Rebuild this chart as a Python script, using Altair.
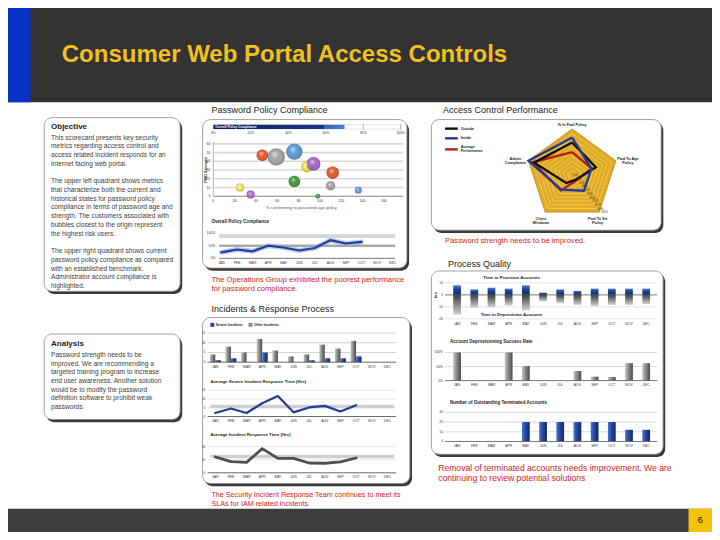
import altair as alt
import pandas as pd

W, H = 704, 524
SX, SY = W / 720.0, H / 540.0
FONT = "Liberation Sans"


def px(v):
    return round(v * SX, 2)


def py(v):
    return round(v * SY, 2)


# ---------------------------------------------------------------- data
MONTHS = ["JAN", "FEB", "MAR", "APR", "MAY", "JUN", "JUL", "AUG", "SEP", "OCT", "NOV", "DEC"]

SLIDE_TITLE = "Consumer Web Portal Access Controls"
PAGE_NO = "6"

OBJECTIVE_HEAD = "Objective"
OBJECTIVE_LINES = [
    "This scorecard presents key security",
    "metrics regarding access control and",
    "access related incident responds for an",
    "Internet facing web portal.",
    "",
    "The upper left quadrant shows metrics",
    "that characterize both the current and",
    "historical states for password policy",
    "compliance in terms of password age and",
    "strength. The customers associated with",
    "bubbles closest to the origin represent",
    "the highest risk users.",
    "",
    "The upper right quadrant shows current",
    "password policy compliance as compared",
    "with an established benchmark.",
    "Administrator account compliance is",
    "highlighted.",
]
ANALYSIS_HEAD = "Analysis"
ANALYSIS_LINES = [
    "Password strength needs to be",
    "improved. We are recommending a",
    "targeted training program to increase",
    "end user awareness. Another solution",
    "would be to modify the password",
    "definition software to prohibit weak",
    "passwords.",
]

SECTION_TITLES = ["Password Policy Compliance", "Incidents & Response Process",
                  "Access Control Performance", "Process Quality"]
NOTE_PPC = ["The Operations Group exhibited the poorest performance", "for password compliance."]
NOTE_IRP = ["The Security Incident Response Team continues to meet its", "SLAs for IAM related incidents."]
NOTE_ACP = ["Password strength needs to be improved."]
NOTE_PQ = ["Removal of terminated accounts needs improvement. We are", "continuing to review potential solutions"]

# password policy compliance
GAUGE_LABEL = "Overall Policy Compliance"
GAUGE_VALUE = 70
GAUGE_TICKS = [0, 20, 40, 60, 80, 100]
BUB_X = [46, 59, 76, 88, 94, 112, 76, 110, 25, 35, 136, 98]
BUB_Y = [47, 45, 51, 34, 37, 27, 17, 12, 10, 2, 7, 0]
BUB_N = [100, 225, 196, 100, 144, 121, 100, 64, 49, 49, 36, 16]
BUB_C = ["#e4572e", "#a3a3a3", "#5b9bd5", "#f0e24a", "#a366c9", "#e4572e",
         "#3c9a3c", "#a3a3a3", "#eeee55", "#b070c8", "#6a9fd0", "#3c9a3c"]
BUB_XTICKS = [0, 20, 40, 60, 80, 100, 120, 140, 160]
BUB_YTICKS = [0, 10, 20, 30, 40, 50, 60]
BUB_XTITLE = "% conforming to password age policy"
BUB_YTITLE = "PWD Strength"
OPC_TITLE = "Overall Policy Compliance"
OPC = [24, 35, 28, 50, 43, 31, 41, 72, 59, 65]
OPC_TARGETS = [88, 50]

# incidents
LEG_INC = ["Severe Incidents", "Other Incidents"]
SEVERE = [1, 2, 0, 5, 0, 0, 1, 2, 2, 3, 0, 0]
OTHER = [4, 8, 5, 12, 6, 3, 4, 9, 7, 11, 0, 0]
SEV_TITLE = "Average Severe Incident Response Time (Hrs)"
SEV_RESP = [2.0, 4.6, 2.0, 7.6, 11.7, 2.4, 5.2, 6.1, 2.9, 6.5]
SEV_TARGET = 5.7
AVG_TITLE = "Average Incident Response Time (Hrs)"
AVG_RESP = [12.2, 8.5, 8.0, 18.5, 11.0, 11.0, 7.5, 7.3, 8.3, 11.3]
AVG_TARGET = 12.5

# process quality
PROV_TITLE = "Time to Provision Accounts"
DEPROV_TITLE = "Time to Deprovision Accounts"
PROVISION = [8, 4.6, 6, 5.2, 8, 1.9, 4.6, 3.3, 5.2, 5.2, 5.2, 5.2]
DEPROVISION = [-16.5, -10.8, -10.3, -8.9, -13, -5.4, -7, -8.4, -9.4, -8.4, -8.4, -7.6]
RATE_TITLE = "Account Deprovisioning Success Rate"
DEPROV_RATE = [100, 0, 0, 100, 52, 0, 0, 34, 14, 13, 62, 62]
OUT_TITLE = "Number of Outstanding Terminated Accounts"
OUTSTANDING = [0, 0, 0, 0, 20, 20, 20, 20, 20, 20, 12, 12]

# access control radar
RADAR_LABELS = [["% In Pwd Policy"], ["Pwd To Age", "Policy"], ["Pwd To Str", "Policy"],
                ["Client", "Windows"], ["Admin", "Compliance"]]
RADAR_SERIES = ["Outside", "Inside", "Average Performance"]
RADAR_OUTSIDE = [0.71, 0.54, 0.13, 0.22, 0.87]
RADAR_INSIDE = [0.82, 0.44, 0.43, 0.40, 1.0]
RADAR_AVERAGE = [0.50, 0.45, 0.15, 0.42, 0.90]
RADAR_LEVELS = [0.1, 0.2, 0.3, 0.4, 0.5, 0.6, 0.7, 0.8, 0.9]
RADAR_STEPS = [0, 0.1, 0.2, 0.3, 0.4, 0.5, 0.6, 0.7, 0.8, 0.9, 1.0]

# ---------------------------------------------------------------- helpers
FX = alt.Scale(domain=[0, 720], range=[0, W], nice=False, zero=False)
FY = alt.Scale(domain=[0, 540], range=[0, H], nice=False, zero=False)
RED = "#d01c1c"
NAVY = "#1f3d99"


def lin(domain, a, b):
    return alt.Scale(domain=domain, range=[a, b], nice=False, zero=False)


def lg(stops, x1=0, y1=0, x2=1, y2=0):
    return alt.LinearGradient(gradient="linear",
                              stops=[alt.GradientStop(color=c, offset=o) for o, c in stops],
                              x1=x1, y1=y1, x2=x2, y2=y2)


def rects(rows, **mk):
    df = pd.DataFrame(rows, columns=["x", "x2", "y", "y2", "c"])
    return alt.Chart(df).mark_rect(**mk).encode(
        x=alt.X("x:Q", scale=FX, axis=None), x2=alt.X2("x2"),
        y=alt.Y("y:Q", scale=FY, axis=None), y2=alt.Y2("y2"),
        color=alt.Color("c:N", scale=None))


def texts(rows, align="left", weight="normal", angle=0):
    df = pd.DataFrame([r for r in rows if r[2] != ""], columns=["x", "y", "t", "s", "c"])
    mk = dict(align=align, baseline="middle", font=FONT, fontWeight=weight)
    if angle:
        mk["angle"] = angle
    return alt.Chart(df).mark_text(**mk).encode(
        x=alt.X("x:Q", scale=FX, axis=None), y=alt.Y("y:Q", scale=FY, axis=None),
        text="t:N", size=alt.Size("s:Q", scale=None), color=alt.Color("c:N", scale=None))


def frule(rows, color, width):
    df = pd.DataFrame(rows, columns=["x", "x2", "y", "y2"])
    return alt.Chart(df).mark_rule(color=color, strokeWidth=width).encode(
        x=alt.X("x:Q", scale=FX, axis=None), x2=alt.X2("x2"),
        y=alt.Y("y:Q", scale=FY, axis=None), y2=alt.Y2("y2"))


def hlines(vals, scale, x0, x1, color, width):
    df = pd.DataFrame({"v": vals})
    return alt.Chart(df).mark_rule(color=color, strokeWidth=width).encode(
        y=alt.Y("v:Q", scale=scale, axis=None), x=alt.value(px(x0)), x2=alt.value(px(x1)))


def ylabels(vals, labels, scale, xr, size=3.6):
    df = pd.DataFrame({"v": vals, "t": labels})
    return alt.Chart(df).mark_text(align="right", baseline="middle", font=FONT,
                                   fontSize=size, color="#333").encode(
        y=alt.Y("v:Q", scale=scale, axis=None), x=alt.value(px(xr)), text="t:N")


def xlabels(vals, labels, scale, yy, size=3.6):
    df = pd.DataFrame({"v": vals, "t": labels})
    return alt.Chart(df).mark_text(align="center", baseline="middle", font=FONT,
                                   fontSize=size, color="#333").encode(
        x=alt.X("v:Q", scale=scale, axis=None), y=alt.value(py(yy)), text="t:N")


def mlabels(scale, yy, size=3.4):
    df = pd.DataFrame({"m": MONTHS})
    return alt.Chart(df).mark_text(align="center", baseline="middle", font=FONT,
                                   fontSize=size, color="#333").encode(
        x=alt.X("m:N", scale=scale, axis=None), y=alt.value(py(yy)), text="m:N")


def mline(vals, xscale, yscale, color, width, opacity=1.0):
    df = pd.DataFrame({"m": MONTHS[:len(vals)], "v": vals, "i": list(range(len(vals)))})
    return alt.Chart(df).mark_line(color=color, strokeWidth=width, opacity=opacity,
                                   strokeJoin="round", strokeCap="round").encode(
        x=alt.X("m:N", scale=xscale, axis=None), y=alt.Y("v:Q", scale=yscale, axis=None),
        order="i:Q")


def mbars(vals, xscale, yscale, grad, key=None):
    df = pd.DataFrame({"m": MONTHS, "v": vals, "k": key or "a"})
    enc = dict(x=alt.X("m:N", scale=xscale, axis=None), y=alt.Y("v:Q", scale=yscale, axis=None))
    if key:
        enc["xOffset"] = alt.XOffset("k:N", scale=alt.Scale(domain=["Other", "Severe"]))
    return alt.Chart(df).mark_bar(color=grad).encode(**enc)


GRAY_H = lg([(0, "#c4c4c4"), (0.45, "#8a8a8a"), (1, "#4a4a4a")])
BLUE_H = lg([(0, "#4a74cc"), (0.5, "#23459e"), (1, "#0f2768")])
BLUE_V = lg([(0, "#4f7fd4"), (0.35, "#23489f"), (1, "#0d2466")], x1=0, y1=0, x2=0, y2=1)
GRAY_V = lg([(0, "#3c3c3c"), (1, "#d2d2d2")], x1=0, y1=0, x2=0, y2=1)

layers = []

# ---------------------------------------------------------------- slide frame
layers.append(rects([
    (0, 720, 0, 97, "#333333"),
    (0, 23, 0, 97, "#0a33c6"),
    (0, 720, 516, 540, "#3d3d3d"),
    (696, 720, 516, 540, "#f4c20d"),
]))

BOXES = [(37, 176, 113, 292), (37, 176, 336, 424), (199, 408, 115, 268),
         (199, 411, 319, 490), (433, 668, 115, 229), (433, 670, 271, 460)]
layers.append(rects([(a + 2.2, b + 2.2, c + 2.8, d + 2.8, "#3a3a3a") for a, b, c, d in BOXES],
                    cornerRadius=8))
layers.append(rects([(a, b, c, d, "#ffffff") for a, b, c, d in BOXES],
                    cornerRadius=8, stroke="#8a8a8a", strokeWidth=0.8))

# ---------------------------------------------------------------- password policy compliance
GX = lin([0, 100], px(210), px(401.7))
layers.append(alt.Chart(pd.DataFrame({"a": [0], "b": [100]})).mark_rect(
    fill="#ffffff", stroke="#c8c8c8", strokeWidth=0.5).encode(
    x=alt.X("a:Q", scale=GX, axis=None), x2=alt.X2("b"),
    y=alt.value(py(120.3)), y2=alt.value(py(124.8))))
layers.append(alt.Chart(pd.DataFrame({"a": [0], "b": [GAUGE_VALUE]})).mark_rect(
    color=lg([(0, "#0b1f5e"), (0.84, "#17378a"), (0.85, "#3565b8"), (1, "#4a7ed0")])).encode(
    x=alt.X("a:Q", scale=GX, axis=None), x2=alt.X2("b"),
    y=alt.value(py(120.3)), y2=alt.value(py(124.8))))
layers.append(alt.Chart(pd.DataFrame({"v": GAUGE_TICKS[3:]})).mark_rule(
    color="#8a8a8a", strokeWidth=0.6).encode(
    x=alt.X("v:Q", scale=GX, axis=None), y=alt.value(py(119.5)), y2=alt.value(py(125.3))))
layers.append(xlabels(GAUGE_TICKS, [f"{t}%" for t in GAUGE_TICKS], GX, 128.5, 3.4))

BX = lin([0, 180], px(210), px(406.2))
BY = lin([0, 60], py(194), py(140))
layers.append(hlines(BUB_YTICKS[1:], BY, 210, 404, "#d9d9d9", 1.6))
layers.append(hlines([0], BY, 210, 404, "#666666", 0.8))
layers.append(alt.Chart(pd.DataFrame({"v": [0]})).mark_rule(color="#888", strokeWidth=0.6).encode(
    x=alt.X("v:Q", scale=BX, axis=None), y=alt.value(py(138)), y2=alt.value(py(194))))
bub = pd.DataFrame({"x": BUB_X, "y": BUB_Y, "n": BUB_N, "c": BUB_C})
SZ = alt.Scale(domain=[0, 225], range=[0, 225 * 1.35 * SX * SX], zero=True)
layers.append(alt.Chart(bub).mark_circle(opacity=1, stroke="#00000033", strokeWidth=0.4).encode(
    x=alt.X("x:Q", scale=BX, axis=None), y=alt.Y("y:Q", scale=BY, axis=None),
    size=alt.Size("n:Q", scale=SZ, legend=None), color=alt.Color("c:N", scale=None)))
layers.append(alt.Chart(bub).mark_circle(opacity=1, color=alt.RadialGradient(
    gradient="radial", x1=0.38, y1=0.32, r1=0, x2=0.5, y2=0.5, r2=0.55,
    stops=[alt.GradientStop(color="rgba(255,255,255,0.65)", offset=0),
           alt.GradientStop(color="rgba(255,255,255,0)", offset=0.45),
           alt.GradientStop(color="rgba(0,0,0,0.28)", offset=1)])).encode(
    x=alt.X("x:Q", scale=BX, axis=None), y=alt.Y("y:Q", scale=BY, axis=None),
    size=alt.Size("n:Q", scale=SZ, legend=None)))
layers.append(ylabels(BUB_YTICKS, [str(t) for t in BUB_YTICKS], BY, 207, 3.5))
layers.append(xlabels(BUB_XTICKS, [str(t) for t in BUB_XTICKS], BX, 199, 3.5))

OX = alt.Scale(type="point", domain=MONTHS, range=[px(218.3), px(393.3)], padding=0)
OY = lin([0, 100], py(258), py(232))
layers.append(hlines([OPC_TARGETS[0]], OY, 216, 396, "#d6d6d6", 3.6))
layers.append(hlines([OPC_TARGETS[1]], OY, 216, 396, "#a9a9a9", 2.4))
layers.append(hlines([0], OY, 216, 396, "#555555", 0.8))
layers.append(mline(OPC, OX, OY, "#8fa7da", 5, 0.6))
layers.append(mline(OPC, OX, OY, NAVY, 2.2))
layers.append(ylabels([0, 50, 100], ["0%", "50%", "100%"], OY, 212, 3.4))
layers.append(mlabels(OX, 262.5))

# ---------------------------------------------------------------- incidents
IB = alt.Scale(type="band", domain=MONTHS, range=[px(204), px(396)], paddingInner=0.3, paddingOuter=0.15)
IY = lin([0, 15], py(365), py(335))
layers.append(hlines([5, 10, 15], IY, 204, 397, "#d3d3d3", 1.0))
layers.append(mbars(OTHER, IB, IY, GRAY_H, "Other"))
layers.append(mbars(SEVERE, IB, IY, BLUE_H, "Severe"))
layers.append(hlines([0], IY, 204, 397, "#444444", 0.8))
layers.append(ylabels([0, 5, 10, 15], ["0", "5", "10", "15"], IY, 202, 3.4))
layers.append(mlabels(IB, 369.5))

LX = alt.Scale(type="point", domain=MONTHS, range=[px(212), px(388)], padding=0)
SVY = lin([0, 15], py(421), py(394))
layers.append(hlines([5, 10, 15], SVY, 204, 397, "#e0e0e0", 0.8))
layers.append(hlines([SEV_TARGET], SVY, 207, 395, "#cfcfcf", 3.6))
layers.append(hlines([0], SVY, 204, 397, "#444444", 0.8))
layers.append(mline(SEV_RESP, LX, SVY, NAVY, 2.2))
layers.append(ylabels([0, 5, 10, 15], ["0", "5", "10", "15"], SVY, 202, 3.4))
layers.append(mlabels(LX, 426))

AY = lin([0, 20], py(479), py(452))
layers.append(hlines([10, 20], AY, 204, 397, "#e0e0e0", 0.8))
layers.append(hlines([AVG_TARGET], AY, 207, 395, "#cfcfcf", 3.6))
layers.append(hlines([0], AY, 204, 397, "#444444", 0.8))
layers.append(mline(AVG_RESP, LX, AY, "#505050", 2.8))
layers.append(ylabels([0, 10, 20], ["0", "10", "20"], AY, 202, 3.4))
layers.append(mlabels(LX, 483.5))

# ---------------------------------------------------------------- process quality
PB = alt.Scale(type="band", domain=MONTHS, range=[px(450.5), px(661.5)], paddingInner=0.55, paddingOuter=0.275)
P1 = lin([-20, 10], py(320.3), py(283.3))
layers.append(hlines([10, -10, -20], P1, 447, 664, "#dddddd", 0.8))
layers.append(mbars(PROVISION, PB, P1, BLUE_V))
layers.append(mbars(DEPROVISION, PB, P1, GRAY_V))
layers.append(hlines([0], P1, 447, 664, "#555555", 0.8))
layers.append(ylabels([10, 0, -10, -20], ["10", "0", "-10", "-20"], P1, 445, 3.4))
layers.append(mlabels(PB, 326))

P2 = lin([0, 100], py(384), py(355))
layers.append(hlines([50, 100], P2, 447, 664, "#d6d6d6", 0.9))
layers.append(mbars(DEPROV_RATE, PB, P2, GRAY_H))
layers.append(hlines([0], P2, 447, 664, "#555555", 0.8))
layers.append(ylabels([0, 50, 100], ["0%", "50%", "100%"], P2, 445, 3.4))
layers.append(mlabels(PB, 389))

P3 = lin([0, 30], py(446.7), py(416.7))
layers.append(hlines([10, 20, 30], P3, 447, 664, "#d6d6d6", 0.9))
layers.append(mbars(OUTSTANDING, PB, P3, BLUE_H))
layers.append(hlines([0], P3, 447, 664, "#555555", 0.8))
layers.append(ylabels([0, 10, 20, 30], ["0", "10", "20", "30"], P3, 445, 3.4))
layers.append(mlabels(PB, 451.7))

# ---------------------------------------------------------------- radar
RCX, RCY, RR = 577, 172, 47
RXS = lin([-1, 1], px(RCX - RR), px(RCX + RR))
RYS = lin([-1, 1], py(RCY + RR), py(RCY - RR))
PENT = "M0,-1L0.9511,-0.309L0.5878,0.809L-0.5878,0.809L-0.9511,-0.309Z"
PSIZE = alt.Scale(type="pow", exponent=2, domain=[0, 1], range=[0, (2 * RR * SX) ** 2])
layers.append(alt.Chart(pd.DataFrame({"x": [0], "y": [0], "l": [1.0]})).mark_point(
    shape=PENT, filled=True, opacity=1, color="#e2ab24", stroke="#b9870f", strokeWidth=0.8).encode(
    x=alt.X("x:Q", scale=RXS, axis=None), y=alt.Y("y:Q", scale=RYS, axis=None),
    size=alt.Size("l:Q", scale=PSIZE, legend=None)))
layers.append(alt.Chart(pd.DataFrame({"x": 0, "y": 0, "l": RADAR_LEVELS})).mark_point(
    shape=PENT, filled=False, opacity=1, color="#f6d77a", strokeWidth=0.6).encode(
    x=alt.X("x:Q", scale=RXS, axis=None), y=alt.Y("y:Q", scale=RYS, axis=None),
    size=alt.Size("l:Q", scale=PSIZE, legend=None)))
for name, vals, col in [("Average Performance", RADAR_AVERAGE, "#b3201c"),
                        ("Outside", RADAR_OUTSIDE, "#111111"),
                        ("Inside", RADAR_INSIDE, NAVY)]:
    rows = [{"i": i, "v": vals[i % 5], "ang": 90 - 72 * (i % 5)} for i in range(6)]
    layers.append(alt.Chart(pd.DataFrame(rows)).transform_calculate(
        rx="datum.v * cos(datum.ang * PI / 180)", ry="datum.v * sin(datum.ang * PI / 180)"
    ).mark_line(color=col, strokeWidth=2.4, strokeJoin="miter").encode(
        x=alt.X("rx:Q", scale=RXS, axis=None), y=alt.Y("ry:Q", scale=RYS, axis=None), order="i:Q"))
layers.append(alt.Chart(pd.DataFrame({"v": RADAR_STEPS, "t": [f"{int(s*100)}%" for s in RADAR_STEPS],
                                      "ang": -54})).transform_calculate(
    rx="datum.v * cos(datum.ang * PI / 180)", ry="datum.v * sin(datum.ang * PI / 180)"
).mark_text(font=FONT, fontSize=2.8, color="#3a3020", align="left", baseline="middle", dx=1.5).encode(
    x=alt.X("rx:Q", scale=RXS, axis=None), y=alt.Y("ry:Q", scale=RYS, axis=None), text="t:N"))

layers.append(frule([(447, 460, 124.3, 124.3)], "#111111", 2.4))
layers.append(frule([(447, 460, 134.3, 134.3)], NAVY, 2.4))
layers.append(frule([(447, 460, 145.7, 145.7)], "#b3201c", 2.4))

# incidents legend squares
layers.append(rects([(207, 211, 324.5, 328.5, "#1f3d99"), (246, 250, 324.5, 328.5, "#8a8a8a")]))

# ---------------------------------------------------------------- texts
DARK = "#222222"
BODY = "#404040"
bold_left = [
    (55, 48, SLIDE_TITLE, 24, "#f0c020"),
    (44, 122.5, OBJECTIVE_HEAD, 8, DARK),
    (44, 346.5, ANALYSIS_HEAD, 8, DARK),
    (212, 122.6, GAUGE_LABEL, 3.3, "#ffffff"),
    (208, 221, OPC_TITLE, 4.6, DARK),
    (207, 385, SEV_TITLE, 4.4, DARK),
    (207, 440, AVG_TITLE, 4.4, DARK),
    (452, 344, RATE_TITLE, 4.5, DARK),
    (452, 407, OUT_TITLE, 4.5, DARK),
    (463, 124.3, RADAR_SERIES[0], 3.6, DARK),
    (463, 134.3, RADAR_SERIES[1], 3.6, DARK),
    (463, 143.6, "Average", 3.6, DARK),
    (463, 147.8, "Performance", 3.6, DARK),
    (212.5, 326.5, LEG_INC[0], 3.4, DARK),
    (251.5, 326.5, LEG_INC[1], 3.4, DARK),
]
normal_left = []
for i, line in enumerate(OBJECTIVE_LINES):
    normal_left.append((44, 133.5 + 9.0 * i, line, 6.6, BODY))
for i, line in enumerate(ANALYSIS_LINES):
    normal_left.append((44, 358 + 8.8 * i, line, 6.6, BODY))
normal_left += [
    (208, 105, SECTION_TITLES[0], 9, DARK),
    (208, 310, SECTION_TITLES[1], 9, DARK),
    (445, 105, SECTION_TITLES[2], 9, DARK),
    (450, 264, SECTION_TITLES[3], 9, DARK),
    (208, 280, NOTE_PPC[0], 7.6, RED),
    (208, 290, NOTE_PPC[1], 7.6, RED),
    (208, 502, NOTE_IRP[0], 7.2, RED),
    (208, 511, NOTE_IRP[1], 7.2, RED),
    (447, 240, NOTE_ACP[0], 7.6, RED),
    (440, 474.5, NOTE_PQ[0], 8.6, RED),
    (440, 484.5, NOTE_PQ[1], 8.6, RED),
]
bold_center = [
    (515, 278, PROV_TITLE, 4.3, DARK),
    (515, 316, DEPROV_TITLE, 4.3, DARK),
    (577, 121, RADAR_LABELS[0][0], 3.8, DARK),
    (634, 155.5, RADAR_LABELS[1][0], 3.8, DARK),
    (634, 160, RADAR_LABELS[1][1], 3.8, DARK),
    (603, 217, RADAR_LABELS[2][0], 3.8, DARK),
    (603, 221.5, RADAR_LABELS[2][1], 3.8, DARK),
    (545, 217, RADAR_LABELS[3][0], 3.8, DARK),
    (545, 221.5, RADAR_LABELS[3][1], 3.8, DARK),
    (519, 155.5, RADAR_LABELS[4][0], 3.8, DARK),
    (519, 160, RADAR_LABELS[4][1], 3.8, DARK),
]
normal_center = [
    (708, 528, PAGE_NO, 9, "#111111"),
    (300, 206, BUB_XTITLE, 4.3, "#555555"),
]
rotated = [
    (203, 167, BUB_YTITLE, 3.8, DARK),
    (437.5, 296, "hrs", 4.0, DARK),
]
layers.append(texts(bold_left, "left", "bold"))
layers.append(texts(normal_left, "left", "normal"))
layers.append(texts(bold_center, "center", "bold"))
layers.append(texts(normal_center, "center", "normal"))
layers.append(texts(rotated, "center", "bold", 270))

chart = alt.layer(*layers).resolve_scale(
    x="independent", y="independent", size="independent", xOffset="independent", color="independent"
).properties(
    width=W, height=H, padding=0, autosize=alt.AutoSizeParams(type="none"), background="white"
).configure_view(stroke=None)

chart.save("out.html", embed_options={"renderer": "svg", "actions": False})
